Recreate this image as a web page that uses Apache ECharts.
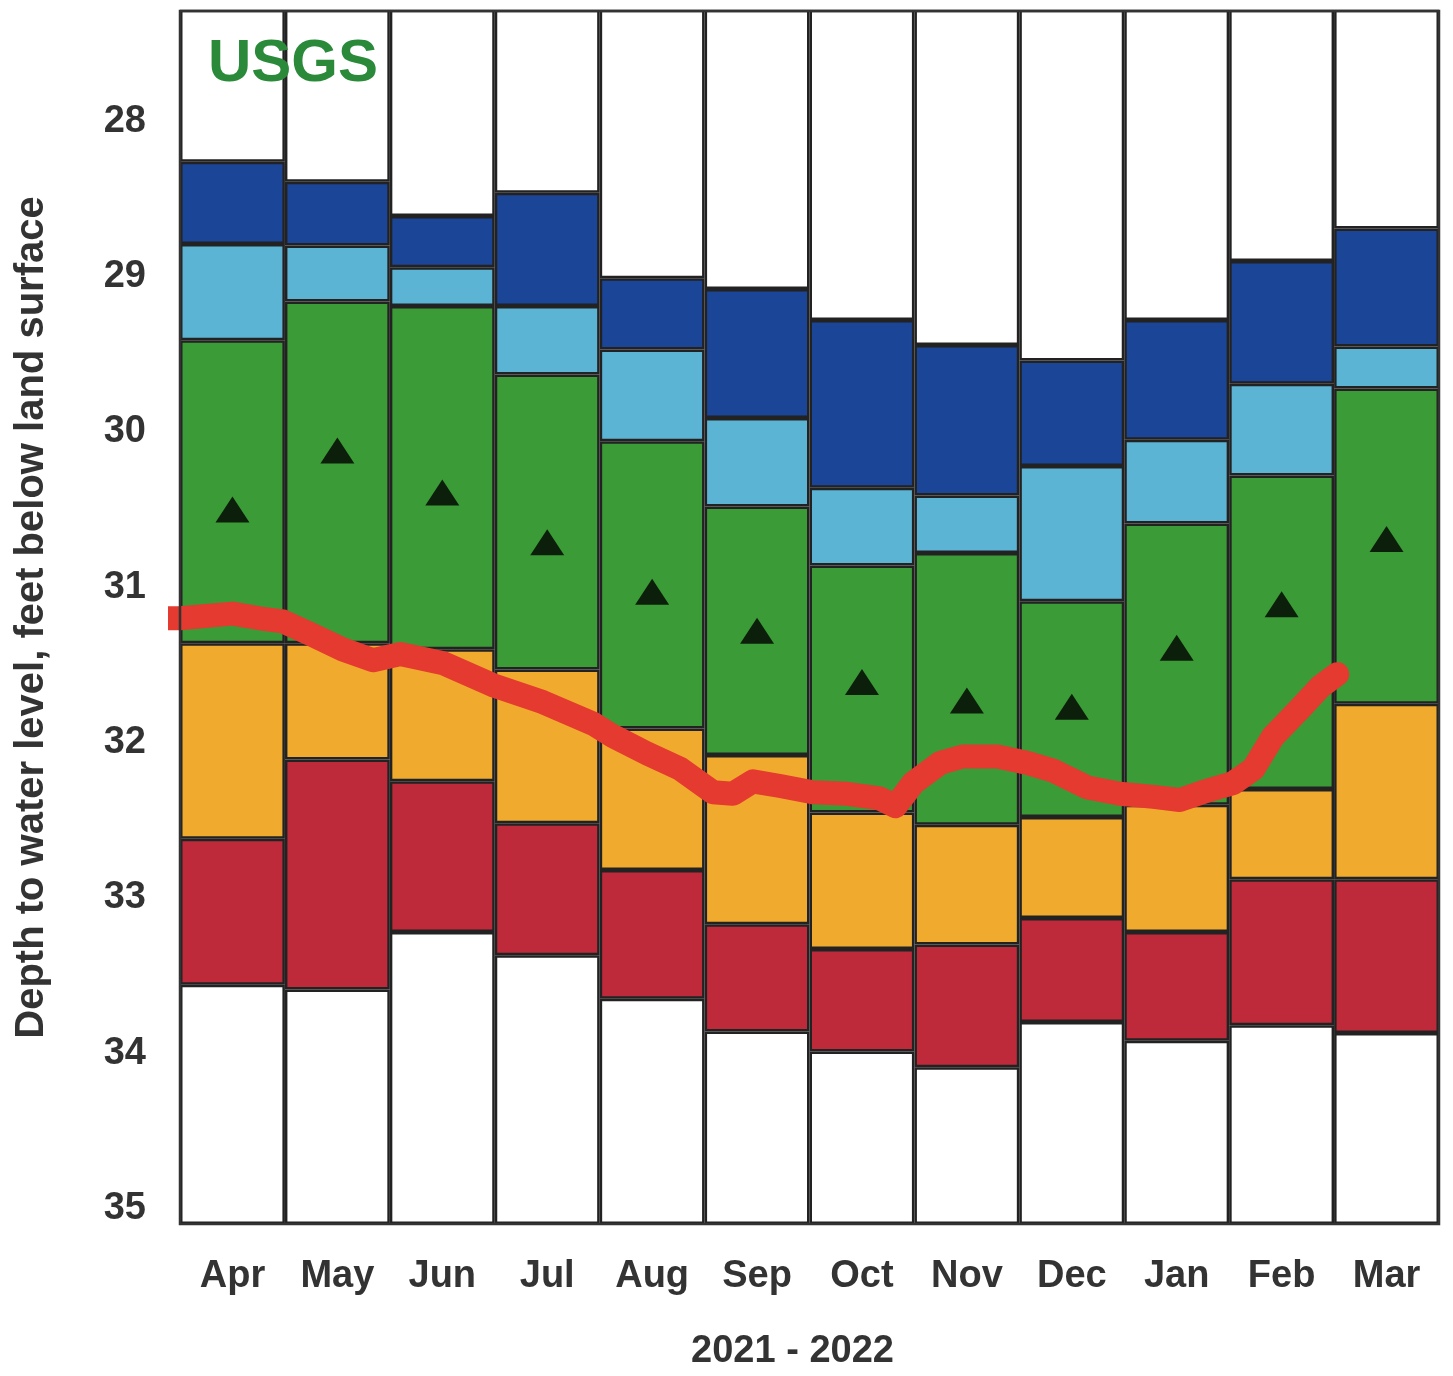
<!DOCTYPE html>
<html>
<head>
<meta charset="utf-8">
<script src="https://cdn.jsdelivr.net/npm/echarts@6/dist/echarts.min.js"></script>
<style>
html,body{margin:0;padding:0;background:#fff;}
#chart{width:1453px;height:1376px;}
</style>
</head>
<body>
<div id="chart"></div>
<script>
// ---- data (depth to water level, feet below land surface) ----
var months = ['Apr','May','Jun','Jul','Aug','Sep','Oct','Nov','Dec','Jan','Feb','Mar'];
var yTicks = [28, 29, 30, 31, 32, 33, 34, 35];
var YMIN = 27.29, YMAX = 35.10;
// percentile boundaries per month (shallow to deep)
var maxRecord = [28.26, 28.39, 28.61, 28.46, 29.01, 29.08, 29.28, 29.44, 29.54, 29.28, 28.90, 28.69];
var p90 = [28.79, 28.80, 28.94, 29.19, 29.47, 29.91, 30.36, 30.41, 30.22, 30.05, 29.69, 29.45];
var p75 = [29.41, 29.16, 29.19, 29.63, 30.06, 30.48, 30.86, 30.78, 31.09, 30.59, 30.28, 29.72];
var p25 = [31.36, 31.36, 31.40, 31.53, 31.91, 32.08, 32.45, 32.53, 32.48, 32.40, 32.30, 31.75];
var p10 = [32.62, 32.11, 32.25, 32.52, 32.82, 33.17, 33.33, 33.30, 33.13, 33.22, 32.88, 32.88];
var minRecord = [33.56, 33.59, 33.22, 33.37, 33.65, 33.86, 33.99, 34.09, 33.80, 33.92, 33.82, 33.87];
var median = [30.50, 30.12, 30.39, 30.71, 31.03, 31.28, 31.61, 31.73, 31.77, 31.39, 31.11, 30.69];
// daily water level trace: position in months from start of Apr, depth
var lineMonth = [-0.12, 0, 0.50, 0.76, 0.98, 1.24, 1.55, 1.84, 2.10, 2.51, 2.98, 3.46, 3.94, 4.13, 4.45, 4.77, 5.08, 5.27, 5.46, 5.72, 6.03, 6.36, 6.67, 6.82, 6.99, 7.25, 7.46, 7.79, 8.07, 8.32, 8.65, 8.96, 9.28, 9.53, 9.79, 10.04, 10.23, 10.42, 10.65, 10.87, 11.03];
var lineDepth = [31.20, 31.20, 31.17, 31.20, 31.22, 31.30, 31.40, 31.47, 31.43, 31.49, 31.63, 31.74, 31.88, 31.96, 32.07, 32.17, 32.32, 32.33, 32.25, 32.28, 32.32, 32.33, 32.36, 32.41, 32.26, 32.13, 32.09, 32.09, 32.13, 32.18, 32.29, 32.33, 32.35, 32.37, 32.31, 32.26, 32.17, 31.96, 31.80, 31.64, 31.56];

// ---- build stacked bands ----
function diff(a, b) { return a.map(function (v, i) { return +(b[i] - v).toFixed(3); }); }
var bands = [
  { name: 'top', color: '#ffffff', data: maxRecord.slice() },
  { name: '>90', color: '#1b4596', data: diff(maxRecord, p90) },
  { name: '76-90', color: '#5cb4d4', data: diff(p90, p75) },
  { name: '25-75', color: '#3b9b36', data: diff(p75, p25) },
  { name: '10-24', color: '#f0aa2e', data: diff(p25, p10) },
  { name: '<10', color: '#be2a3a', data: diff(p10, minRecord) },
  { name: 'bottom', color: '#ffffff', data: minRecord.map(function (v) { return +(YMAX - v).toFixed(3); }) }
];
var series = bands.map(function (b) {
  return {
    type: 'bar', name: b.name, stack: 'pct', xAxisIndex: 0, yAxisIndex: 0,
    barWidth: '100%', barCategoryGap: '0%',
    data: b.data, silent: true,
    itemStyle: { color: b.color, borderColor: '#222', borderWidth: 2.5 },
    z: 2
  };
});
series.push({
  type: 'scatter', xAxisIndex: 0, yAxisIndex: 0, data: median,
  symbol: 'triangle', symbolSize: [34, 26],
  itemStyle: { color: '#000' }, z: 5
});
series.push({
  type: 'line', xAxisIndex: 1, yAxisIndex: 0, clip: false,
  data: lineMonth.map(function (m, i) { return [m, lineDepth[i]]; }),
  showSymbol: false, symbol: 'none',
  lineStyle: { color: '#e53a2f', width: 24, cap: 'round', join: 'round' },
  z: 6
});

var FONT = 'Liberation Sans, Arial, sans-serif';
var chart = echarts.init(document.getElementById('chart'), null, { renderer: 'canvas' });
chart.setOption({
  animation: false,
  backgroundColor: '#fff',
  title: {
    text: 'USGS', left: 203, top: 29,
    textStyle: { color: '#2b8a3a', fontSize: 60, fontWeight: 'bold', fontFamily: FONT }
  },
  grid: { left: 180, right: 14, top: 11, bottom: 145, show: true, borderColor: '#333', borderWidth: 2.5, backgroundColor: 'transparent', z: 10 },
  xAxis: [
    {
      type: 'category', data: months, position: 'bottom',
      axisLine: { show: false }, axisTick: { show: false },
      axisLabel: { fontSize: 38, fontWeight: 'bold', color: '#333', margin: 34, fontFamily: FONT },
      name: '2021 - 2022', nameLocation: 'middle', nameGap: 109,
      nameTextStyle: { fontSize: 38, fontWeight: 'bold', color: '#333', fontFamily: FONT, padding: [0, 34, 0, 0] }
    },
    {
      type: 'value', min: 0, max: 12, position: 'top', show: false
    }
  ],
  yAxis: [{
    type: 'value', inverse: true, min: YMIN, max: YMAX,
    axisLine: { show: false }, axisTick: { show: false }, splitLine: { show: false },
    axisLabel: { customValues: yTicks, fontSize: 38, fontWeight: 'bold', color: '#333', margin: 34, fontFamily: FONT },
    name: 'Depth to water level, feet below land surface', nameLocation: 'middle', nameGap: 128,
    nameTextStyle: { fontSize: 40, fontWeight: 'bold', color: '#333', fontFamily: FONT }
  }],
  series: series
});
</script>
</body>
</html>
